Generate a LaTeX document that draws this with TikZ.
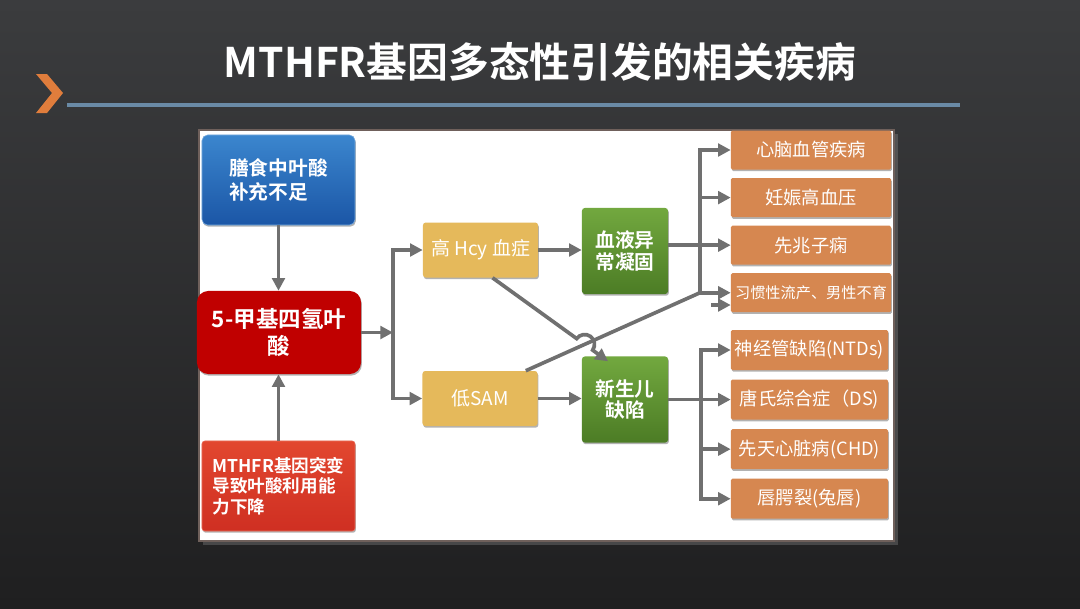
\documentclass[tikz,border=0pt]{standalone}
\usepackage{fontspec}
\setmainfont{Noto Sans CJK SC}[BoldFont={Noto Sans CJK SC Bold}]
\usepackage{tikz}
\usetikzlibrary{arrows.meta, positioning, calc, intersections, shadows}

\definecolor{bgtop}{HTML}{3B3C3E}
\definecolor{bgbot}{HTML}{1F1F20}
\definecolor{chev}{HTML}{E07D3C}
\definecolor{rule}{HTML}{6A8AA6}
\definecolor{frame}{HTML}{6F605B}
\definecolor{conn}{HTML}{707070}
\definecolor{bluetop}{HTML}{3B86CE}
\definecolor{bluebot}{HTML}{1B56A6}
\definecolor{darkred}{HTML}{C00000}
\definecolor{redtop}{HTML}{E2472F}
\definecolor{redbot}{HTML}{CF2F22}
\definecolor{amber}{HTML}{E5B95B}
\definecolor{greentop}{HTML}{72A83F}
\definecolor{greenbot}{HTML}{4C7C25}
\definecolor{peach}{HTML}{D68750}

\begin{document}
\begin{tikzpicture}[
  x=0.025cm, y=-0.025cm,
  node distance=0.2cm,
  box/.style={rectangle, rounded corners=2pt, inner sep=0pt, align=center,
              text=white, drop shadow={shadow xshift=0.6pt, shadow yshift=-1.2pt,
              opacity=0.3, fill=black}},
  bluebox/.style={box, rounded corners=4pt, top color=bluetop, bottom color=bluebot,
              draw=bluetop!70!white, minimum width=3.825cm, minimum height=2.25cm,
              font=\fontsize{14pt}{17pt}\selectfont\bfseries},
  keybox/.style={box, rounded corners=8pt, fill=darkred, minimum width=4.1cm,
              minimum height=2.075cm, font=\fontsize{16pt}{19pt}\selectfont\bfseries},
  redbox/.style={box, top color=redtop, bottom color=redbot, draw=redtop!80!white,
              minimum width=3.825cm, minimum height=2.25cm,
              font=\fontsize{12.5pt}{14.5pt}\selectfont\bfseries},
  ybox/.style={box, fill=amber, minimum width=2.875cm, minimum height=1.375cm,
              font=\fontsize{13.5pt}{16pt}\selectfont},
  gbox/.style={box, top color=greentop, bottom color=greenbot, minimum width=2.15cm,
              minimum height=2.15cm, font=\fontsize{14pt}{15.5pt}\selectfont\bfseries},
  obox/.style={box, rounded corners=1pt, fill=peach, minimum width=4cm,
              minimum height=0.975cm, font=\fontsize{13pt}{15pt}\selectfont},
  arr/.style={-{Triangle[length=9pt, width=9pt]}, line width=2.6pt, conn},
  line/.style={line width=2.6pt, conn},
]
\useasboundingbox (0,0) rectangle (1080,608);

%% ---- slide background ----
\shade[top color=bgtop, bottom color=bgbot] (0,0) rectangle (1080,608);
\node[font=\fontsize{29pt}{33pt}\selectfont\bfseries, text=white] (title) at (540,62)
      {MTHFR基因多态性引发的相关疾病};
\fill[chev] (36,74) -- (47,74) -- (63,93) -- (47,113) -- (36,113) -- (52,93) -- cycle;
\coordinate (rulel) at (67,105);
\coordinate (ruler) at (960,105);
\draw[rule, line width=2.2pt] (rulel) -- (ruler);

%% white panel
\node[rectangle, fill=white, draw=frame, line width=1.5pt, minimum width=17.375cm,
      minimum height=10.275cm, drop shadow={opacity=0.4}] (panel) at (546.5,335.5) {};

%% ---- Left: causes ----
\node[bluebox, align=left] (diet) at (278.5,180) {膳食中叶酸\\补充不足};
\node[keybox]  (mthf) at (279,332.5) {5-甲基四氢叶\\酸};
\node[redbox, align=left] (mut) at (278.5,486) {MTHFR基因突变\\导致叶酸利用能\\力下降};

\draw[arr] (diet.south) -- (diet.south |- mthf.north);
\draw[arr] (mut.north) -- (mut.north |- mthf.south);

%% ---- Middle: metabolic effects ----
\node[ybox] (hcy) at (480.5,250) {高 Hcy 血症};
\node[ybox] (sam) at (480,398.5) {低SAM};
\node[gbox] (coag)   at (625,251)   {血液异\\常凝固};
\node[gbox] (defect) at (625,399.5) {新生儿\\缺陷};

\coordinate (jl) at (393,0);
\draw[arr] (mthf.east) -- (mthf.east -| jl);
\draw[arr] (mthf.east -| jl) |- (hcy.west);
\draw[arr] (mthf.east -| jl) |- (sam.west);
\draw[arr] (hcy) -- (hcy -| coag.west);
\draw[arr] (sam) -- (sam -| defect.west);

%% ---- Right: diseases ----
\node[obox] (card) at (811,150) {心脑血管疾病};
\node[obox, below=of card] (preg) {妊娠高血压};
\node[obox, below=of preg] (prec) {先兆子痫};
\node[obox, below=of prec, font=\fontsize{10.8pt}{13pt}\selectfont] (hab)
      {习惯性流产、男性不育};

\begin{scope}[node distance=0.225cm, obox/.append style={minimum width=3.925cm,
              minimum height=1cm}]
  \node[obox] (ntd) at (809.5,350) {神经管缺陷(NTDs)};
  \node[obox, below=of ntd]  (down) {唐氏综合症（DS)};
  \node[obox, below=of down] (chd)  {先天心脏病(CHD)};
  \node[obox, below=of chd]  (lip)  {唇腭裂(兔唇)};
\end{scope}

\coordinate (tt) at (700,0);
\draw[line] (coag.east |- prec.west) -- (prec.west -| tt);
\draw[arr] (prec.west -| tt) -- (prec.west);
\draw[arr] (prec.west -| tt) |- (card.west);
\draw[arr] (prec.west -| tt) |- (preg.west);
\draw[arr] (prec.west -| tt) |- (hab.west);

\coordinate (bt) at (701,0);
\draw[line] (defect.east |- down.west) -- (down.west -| bt);
\draw[arr] (down.west -| bt) -- (down.west);
\draw[arr] (down.west -| bt) |- (ntd.west);
\draw[arr] (down.west -| bt) |- (chd.west);
\draw[arr] (down.west -| bt) |- (lip.west);

%% crossing links, Hcy line hops over the SAM line
\coordinate (hs) at ($(hcy.south)+(12,0)$);
\coordinate (he) at ($(defect.north)+(-17,5)$);
\coordinate (ss) at ($(sam.north east)+(-12,0)$);
\coordinate (junc) at (hab.west -| tt);
\path[name path=lhcy] (hs) -- (he);
\path[name path=lsam] (ss) -- (junc);
\path[name intersections={of=lhcy and lsam, by=cross}];
\draw[line] (ss) -- (junc);
\draw[arr] let \p1=($(he)-(hs)$), \n1={atan2(\y1,\x1)} in
  (hs) -- ($(cross)!7pt!(hs)$) arc[start angle=\n1+180, end angle=\n1, radius=7pt] -- (he);

\coordinate (stray) at (711,305);
\draw[arr] (stray) -- (stray -| hab.west);

\end{tikzpicture}
\end{document}
